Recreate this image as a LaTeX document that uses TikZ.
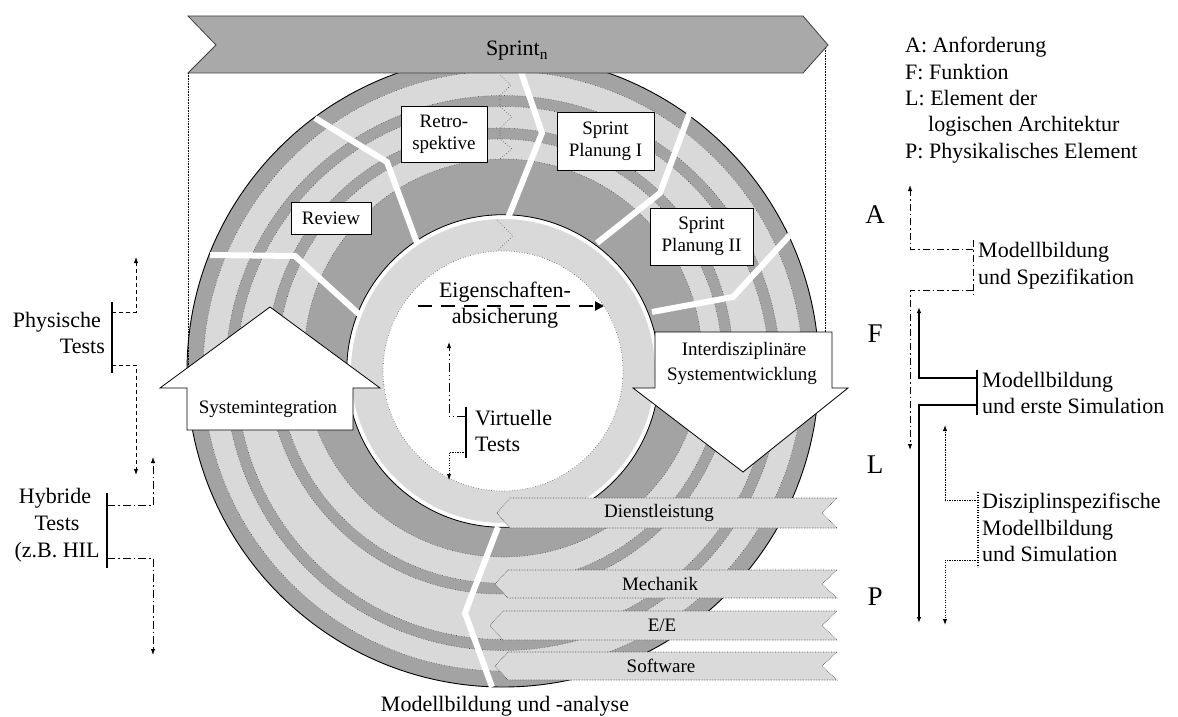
\documentclass[tikz,border=0pt]{standalone}
\usepackage{fontspec}
\setmainfont{Liberation Serif}
\usetikzlibrary{arrows.meta}
\definecolor{ringlight}{HTML}{D9D9D9}
\definecolor{ringdark}{HTML}{A3A3A3}
\definecolor{bannerfill}{HTML}{A9A9A9}
\definecolor{bandfill}{HTML}{DADADA}
\begin{document}
\begin{tikzpicture}[x=1pt,y=-1pt,
  ringline/.style={dotted, draw=black!70, line width=0.6pt},
  sepline/.style={white, line width=6pt, line join=miter},
  labelbox/.style={draw, fill=white, line width=0.8pt, align=center, inner sep=0pt,
    font=\fontsize{19}{22}\selectfont},
  band/.style={fill=bandfill, draw=black!70, densely dotted, line width=0.6pt},
  bandtext/.style={font=\fontsize{19}{22}\selectfont, inner sep=0pt},
  bigarrow/.style={fill=white, draw=black, line width=0.8pt},
  txt/.style={font=\fontsize{19}{22}\selectfont, inner sep=0pt},
  bigtxt/.style={font=\fontsize{22}{26}\selectfont, inner sep=0pt},
  lettertxt/.style={font=\fontsize{27}{30}\selectfont, inner sep=0pt},
  tip/.style={-{Latex[length=6pt,width=4.5pt]}},
  conn/.style={line width=1pt, tip},
  bar/.style={line width=1.3pt},
  physdash/.style={dash pattern=on 4pt off 3pt},
  hybdash/.style={dash pattern=on 8pt off 3pt on 1.5pt off 3pt},
  specdash/.style={dash pattern=on 7pt off 3pt on 1.5pt off 3pt},
  simdot/.style={dash pattern=on 1.2pt off 1.3pt},
  virtdash/.style={dash pattern=on 9pt off 3pt on 1.2pt off 3pt on 1.2pt off 3pt},
]
\useasboundingbox (0,0) rectangle (1178,717);

% ---------------- disk with spiralling rings ----------------
\coordinate (C)  at (503,371);   % disk and inner ring
\coordinate (S2) at (503,373);   % outer stripe
\coordinate (S1) at (500,361);   % inner stripe
\coordinate (D)  at (503,358);   % dark ring
\fill[ringdark]  (C)  circle[radius=316pt];
\fill[ringlight] (C)  circle[radius=300pt];
\fill[ringdark]  (S2) circle[radius=277.5pt];
\fill[ringlight] (S2) circle[radius=266.5pt];
\fill[ringdark]  (S1) circle[radius=233pt];
\fill[ringlight] (S1) circle[radius=222pt];
\fill[ringdark]  (D)  circle[radius=199pt];
\fill[ringlight] (C)  circle[radius=153pt];
\fill[white]     (C)  circle[radius=120pt];
\draw[ringline] (C) circle[radius=300pt];
\draw[ringline] (S2) circle[radius=277.5pt];
\draw[ringline] (S2) circle[radius=266.5pt];
\draw[ringline] (S1) circle[radius=233pt];
\draw[ringline] (S1) circle[radius=222pt];
\draw[ringline] (D) circle[radius=199pt];
\draw[ringline] (C) circle[radius=120pt];
\draw[white, line width=4pt] (C) circle[radius=154pt];
\draw[black, line width=0.8pt] (C) circle[radius=156.3pt];
\draw[black, line width=0.9pt] (C) circle[radius=316pt];

% chevrons marking the ring starts
\draw[ringline] (500,75) -- (511,85) -- (500,95.5) -- (500,106.5) -- (512,117)
  -- (500,128) -- (500,139) -- (512,149) -- (500,159);
\draw[ringline] (497,220) -- (513,236) -- (497,251);

% phase separators
\draw[sepline] (210,255) -- (295,256) -- (360,315);
\draw[sepline] (315,118) -- (387,162) -- (417,243);
\draw[sepline] (517,60) -- (542,133) -- (508,218);
\draw[sepline] (690,112) -- (660,193) -- (597,243);
\draw[sepline] (790,235) -- (733,297) -- (652,312);
\draw[sepline] (498,527) -- (465,613) -- (492,687);

% sprint frame
\draw[densely dotted, line width=0.6pt] (188,73) -- (188,380);
\draw[densely dotted, line width=0.6pt] (825,45) -- (825,340);
\draw[fill=bannerfill, draw=black!75, line width=0.8pt]
  (188,16) -- (803,16) -- (828,45) -- (803,73) -- (188,73) -- (216,45) -- cycle;
\node[bigtxt, anchor=base] (sprint) at (517,56) {Sprint\textsubscript{n}};

% phase labels
\node[labelbox, minimum width=80pt, minimum height=32pt] (review) at (331,218) {Review};
\node[labelbox, minimum width=86pt, minimum height=56pt] (retro) at (444,134) {Retro-\\spektive};
\node[labelbox, minimum width=97pt, minimum height=58pt] (planI) at (605.5,141) {Sprint\\Planung I};
\node[labelbox, minimum width=103pt, minimum height=57pt] (planII) at (701.5,236.5) {Sprint\\Planung II};

% discipline bands
\draw[band] (510,498) -- (837,498) -- (822,513) -- (837,528) -- (510,528) -- (497,513) -- cycle;
\node[bandtext] (dienst) at (659,513) {Dienstleistung};
\draw[band] (508,570) -- (837,570) -- (822,584) -- (837,598) -- (508,598) -- (495,584) -- cycle;
\node[bandtext] (mech) at (660,584) {Mechanik};
\draw[band] (503,611) -- (837,611) -- (822,625.5) -- (837,640) -- (503,640) -- (490,625.5) -- cycle;
\node[bandtext] (ee) at (662,625.5) {E/E};
\draw[band] (508,652) -- (837,652) -- (822,666) -- (837,680) -- (508,680) -- (495,666) -- cycle;
\node[bandtext] (sw) at (661,666) {Software};

% integration / development arrows
\draw[bigarrow] (187,430) -- (187,388) -- (160,388) -- (270,307) -- (380,388)
  -- (353,388) -- (353,430) -- cycle;
\node[txt, anchor=base] (sysint) at (268,413) {Systemintegration};
\draw[bigarrow] (655,332) -- (832,332) -- (832,388) -- (848,388) -- (743,472)
  -- (633,388) -- (655,388) -- cycle;
\node[txt, anchor=base] (interd) at (744,355) {Interdisziplinäre};
\node[txt, anchor=base] (sysent) at (742,380) {Systementwicklung};

% centre: property assurance and virtual tests
\node[bigtxt, anchor=base] (eig1) at (505,297) {Eigenschaften-};
\node[bigtxt, anchor=base] (eig2) at (505,323) {absicherung};
\coordinate (eigA) at (418,306);
\coordinate (eigB) at (604,306);
\draw[line width=2.6pt, dash pattern=on 14pt off 9pt, -{Triangle[length=9pt,width=9pt]}] (eigA) -- (eigB);

\node[bigtxt, anchor=base west] (virt1) at (475,425) {Virtuelle};
\node[bigtxt, anchor=base west] (virt2) at (475,451) {Tests};
\coordinate (vbT) at (466,407);
\coordinate (vbB) at (466,458);
\coordinate (vt1) at (466,416);
\coordinate (vt2) at (466,452);
\coordinate (vup) at (449,342);
\coordinate (vdn) at (449,480);
\draw[bar] (vbT) -- (vbB);
\draw[conn, virtdash] (vt1) -| (vup);
\draw[conn, simdot] (vt2) -| (vdn);

% physical tests
\node[bigtxt, anchor=base east] (phys1) at (101,327) {Physische};
\node[bigtxt, anchor=base east] (phys2) at (105,353) {Tests};
\coordinate (pbT) at (112,302);
\coordinate (pbB) at (112,373);
\coordinate (pt1) at (112,312);
\coordinate (pt2) at (112,365);
\coordinate (pup) at (136,257);
\coordinate (pdn) at (136,475);
\draw[bar] (pbT) -- (pbB);
\draw[conn, physdash] (pt1) -| (pup);
\draw[conn, physdash] (pt2) -| (pdn);

% hybrid tests
\node[bigtxt, anchor=base] (hyb1) at (55,503) {Hybride};
\node[bigtxt, anchor=base] (hyb2) at (57,530) {Tests};
\node[bigtxt, anchor=base] (hyb3) at (57,557) {(z.B. HIL};
\coordinate (hbT) at (107,493);
\coordinate (hbB) at (107,568);
\coordinate (ht1) at (107,505);
\coordinate (ht2) at (107,558);
\coordinate (hup) at (153,457);
\coordinate (hdn) at (153,655);
\draw[bar] (hbT) -- (hbB);
\draw[conn, hybdash] (ht1) -| (hup);
\draw[conn, hybdash] (ht2) -| (hdn);

% legend
\node[bigtxt, anchor=base west] (legA) at (905,53) {A: Anforderung};
\node[bigtxt, anchor=base west] (legF) at (905,79) {F: Funktion};
\node[bigtxt, anchor=base west] (legL) at (905,105) {L: Element der};
\node[bigtxt, anchor=base west] (legL2) at (928,131) {logischen Architektur};
\node[bigtxt, anchor=base west] (legP) at (905,158) {P: Physikalisches Element};

% abstraction levels
\node[lettertxt, anchor=base] (lvA) at (875,223) {A};
\node[lettertxt, anchor=base] (lvF) at (875,342) {F};
\node[lettertxt, anchor=base] (lvL) at (875,473) {L};
\node[lettertxt, anchor=base] (lvP) at (875,605) {P};

% modelling and specification
\node[bigtxt, anchor=base west] (ms1) at (978,257) {Modellbildung};
\node[bigtxt, anchor=base west] (ms2) at (978,284) {und Spezifikation};
\coordinate (s1T) at (973,240);
\coordinate (s1B) at (973,297);
\coordinate (s1a) at (973,249);
\coordinate (s1b) at (973,290);
\coordinate (s1up) at (910,185);
\coordinate (s1dn) at (910,450);
\draw[line width=1pt, specdash] (s1T) -- (s1B);
\draw[conn, specdash] (s1a) -| (s1up);
\draw[conn, specdash] (s1b) -| (s1dn);

% modelling and first simulation
\node[bigtxt, anchor=base west] (mf1) at (982,387) {Modellbildung};
\node[bigtxt, anchor=base west] (mf2) at (982,413) {und erste Simulation};
\coordinate (s2T) at (977,370);
\coordinate (s2B) at (977,415);
\coordinate (s2a) at (977,378);
\coordinate (s2b) at (977,405);
\coordinate (s2up) at (919,307);
\coordinate (s2dn) at (919,623);
\draw[bar, line width=1.5pt] (s2T) -- (s2B);
\draw[conn, line width=1.4pt] (s2a) -| (s2up);
\draw[conn, line width=1.4pt] (s2b) -| (s2dn);

% discipline-specific modelling
\node[bigtxt, anchor=base west] (md1) at (982,508) {Disziplinspezifische};
\node[bigtxt, anchor=base west] (md2) at (982,535) {Modellbildung};
\node[bigtxt, anchor=base west] (md3) at (982,561) {und Simulation};
\coordinate (s3T) at (978,492);
\coordinate (s3B) at (978,567);
\coordinate (s3a) at (978,500);
\coordinate (s3b) at (978,560);
\coordinate (s3up) at (945,425);
\coordinate (s3dn) at (945,625);
\draw[line width=1.1pt, simdot] (s3T) -- (s3B);
\draw[conn, simdot] (s3a) -| (s3up);
\draw[conn, simdot] (s3b) -| (s3dn);

% bottom caption of the disk
\node[bigtxt, anchor=base] (mba) at (505,711) {Modellbildung und -analyse};
\end{tikzpicture}
\end{document}
